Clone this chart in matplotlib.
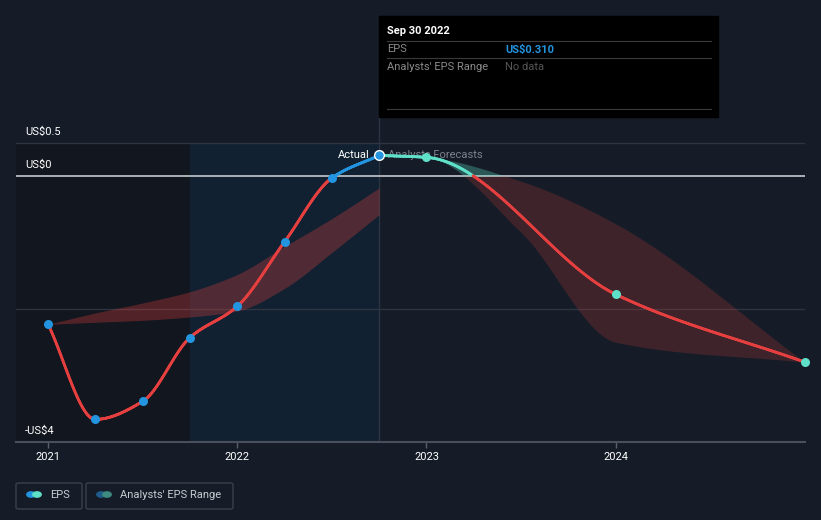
import numpy as np
import matplotlib
matplotlib.use('Agg')
import matplotlib.pyplot as plt
from matplotlib.collections import LineCollection
from matplotlib.patches import Rectangle, FancyBboxPatch, Circle

plt.rcParams['font.family'] = ['Roboto', 'DejaVu Sans']

# Dados (ano decimal, EPS em US$)
actual_x = [2021.0, 2021.25, 2021.5, 2021.75, 2022.0, 2022.25, 2022.5, 2022.75]
actual_eps = [-2.23, -3.66, -3.39, -2.43, -1.96, -0.99, -0.03, 0.31]

forecast_x = [2022.75, 2023.0, 2024.0, 2025.0]
forecast_eps = [0.31, 0.28, -1.78, -2.80]

# Faixa dos analistas (passado)
past_range_x = [2021.0, 2021.25, 2021.5, 2021.75, 2022.0, 2022.25, 2022.5, 2022.75]
past_range_hi = [-2.23, -2.06, -1.91, -1.74, -1.48, -1.06, -0.64, -0.18]
past_range_lo = [-2.23, -2.20, -2.17, -2.12, -2.03, -1.69, -1.15, -0.58]

# Faixa dos analistas (previsao)
fc_range_x = [2022.75, 2023.0, 2023.5, 2024.0, 2025.0]
fc_range_hi = [0.31, 0.28, -0.08, -0.72, -2.80]
fc_range_lo = [0.31, 0.28, -0.85, -2.50, -2.80]

ytick_vals = [0.5, 0.0, -4.0]
ytick_labels = ['US$0.5', 'US$0', '-US$4']
xtick_vals = [2021, 2022, 2023, 2024]

BG = '#151c27'
RED = '#e5403f'
BLUE = '#2394df'
TEAL = '#5fe0c8'
W, H = 821, 520


def pchip(x, y, n=400):
    x = np.asarray(x, float)
    y = np.asarray(y, float)
    h = np.diff(x)
    d = np.diff(y) / h
    m = np.zeros_like(y)
    for k in range(1, len(x) - 1):
        if d[k - 1] * d[k] > 0:
            w1 = 2 * h[k] + h[k - 1]
            w2 = h[k] + 2 * h[k - 1]
            m[k] = (w1 + w2) / (w1 / d[k - 1] + w2 / d[k])
    m[0] = d[0]
    m[-1] = d[-1]
    xs = np.linspace(x[0], x[-1], n)
    idx = np.clip(np.searchsorted(x, xs) - 1, 0, len(x) - 2)
    t = (xs - x[idx]) / h[idx]
    h00 = 2 * t**3 - 3 * t**2 + 1
    h10 = t**3 - 2 * t**2 + t
    h01 = -2 * t**3 + 3 * t**2
    h11 = t**3 - t**2
    ys = h00 * y[idx] + h10 * h[idx] * m[idx] + h01 * y[idx + 1] + h11 * h[idx] * m[idx + 1]
    return xs, ys


def fx(px):
    return px / W


def fy(py):
    return 1 - py / H


fig = plt.figure(figsize=(W / 100, H / 100), dpi=100, facecolor=BG)
ax = fig.add_axes([fx(16), fy(442), (805 - 16) / W, (442 - 120) / H])
ax.set_facecolor(BG)
x0 = 2021 - 32 / 189.3
ax.set_xlim(x0, 2025.0)
ax.set_ylim(-4, 0.842)
for s in ax.spines.values():
    s.set_visible(False)

# Regioes sombreadas
ax.fill_between([x0, 2021.75], -4, 0.5, color='#12161e', lw=0, zorder=0)
ax.fill_between([2021.75, 2022.75], -4, 0.5, color='#112131', lw=0, zorder=0)
ax.plot([2022.75, 2022.75], [-4, 0.9], color='#2a3442', lw=1, zorder=1, clip_on=False)

# Grade
ax.axhline(0.5, color='#2e3440', lw=1, zorder=1)
ax.axhline(-2.0, color='#2e3440', lw=1, zorder=1)
ax.axhline(0.0, color='#b8bcc2', lw=1.3, zorder=2)
ax.axhline(-4.0, color='#4a505b', lw=1.5, zorder=2, clip_on=False)

# Faixas
bx, bh = pchip(past_range_x, past_range_hi)
_, bl = pchip(past_range_x, past_range_lo)
ax.fill_between(bx, bl, bh, color=RED, alpha=0.3, lw=0, zorder=2)

fxs, fh = pchip(fc_range_x, fc_range_hi)
_, fl = pchip(fc_range_x, fc_range_lo)
ax.fill_between(fxs, np.minimum(fl, 0), np.minimum(fh, 0), color=RED, alpha=0.2, lw=0, zorder=2)
ax.fill_between(fxs, np.maximum(fl, 0), np.maximum(fh, 0), color=TEAL, alpha=0.3, lw=0, zorder=2)


def colored_line(xs, ys, pos_color):
    pts = np.column_stack([xs, ys])
    segs = np.stack([pts[:-1], pts[1:]], axis=1)
    mid = (ys[:-1] + ys[1:]) / 2
    cols = [pos_color if v >= 0 else RED for v in mid]
    lc = LineCollection(segs, colors=cols, linewidths=2.0, zorder=4, capstyle='round')
    ax.add_collection(lc)


ax_, ay_ = pchip(actual_x, actual_eps, 800)
colored_line(ax_, ay_, BLUE)
fx_, fy_ = pchip(forecast_x, forecast_eps, 600)
colored_line(fx_, fy_, TEAL)

ax.plot(actual_x[:-1], actual_eps[:-1], 'o', color=BLUE, ms=6.5, mec='none', zorder=5)
ax.plot(actual_x[-1:], actual_eps[-1:], 'o', color=BLUE, ms=7, mec='white', mew=1, zorder=6)
ax.plot(forecast_x[1:], forecast_eps[1:], 'o', color=TEAL, ms=6.5, mec='none', zorder=5, clip_on=False)

# Rotulos Actual / Analysts Forecasts
ax.annotate('Actual', (2022.75, 0.31), xytext=(-7, 0), textcoords='offset points',
            ha='right', va='center', color='white', fontsize=8, zorder=7)
ax.annotate('Analysts Forecasts', (2022.75, 0.31), xytext=(6, 0), textcoords='offset points',
            ha='left', va='center', color='#7d828b', fontsize=8, zorder=3)

# Eixo y (rotulos dentro do grafico)
for v, lab in zip(ytick_vals, ytick_labels):
    ax.annotate(lab, (x0, v), xytext=(6.5, 4.5), textcoords='offset points',
                ha='left', va='bottom', color='white', fontsize=8)
ax.set_yticks([])

# Eixo x
ax.set_xticks(xtick_vals)
ax.set_xticklabels([str(v) for v in xtick_vals])
ax.tick_params(axis='x', colors='#5a606b', length=4, width=1, labelcolor='white',
               labelsize=8, pad=3)

# Tooltip
fig.patches.append(Rectangle((fx(379), fy(117)), (718 - 379) / W, (117 - 16) / H,
                             transform=fig.transFigure, color='black', zorder=10))
for yy in [41, 58, 109]:
    fig.add_artist(plt.Line2D([fx(387), fx(711)], [fy(yy), fy(yy)], color='#3a3a3a',
                              lw=0.8, zorder=11))
fig.text(fx(387), fy(31), 'Sep 30 2022', color='white', fontsize=8, fontweight='bold',
         va='center', zorder=12)
fig.text(fx(387), fy(49.5), 'EPS', color='#8a8a8a', fontsize=8, va='center', zorder=12)
fig.text(fx(505), fy(49.5), 'US$0.310', color=BLUE, fontsize=8, fontweight='bold',
         va='center', zorder=12)
fig.text(fx(387), fy(66.5), "Analysts' EPS Range", color='#8a8a8a', fontsize=8,
         va='center', zorder=12)
fig.text(fx(505), fy(66.5), 'No data', color='#555555', fontsize=8, va='center', zorder=12)

# Legenda
for (l, r) in [(16, 82), (86, 233)]:
    fig.patches.append(FancyBboxPatch((fx(l), fy(509)), (r - l) / W, 26 / H,
                                      boxstyle='round,pad=0,rounding_size=0.003',
                                      transform=fig.transFigure, fc='none',
                                      ec='#3b414c', lw=1))
leg_items = [(31, BLUE, TEAL, 50, 'EPS'), (101, '#1f5c8a', '#3d8a80', 120, "Analysts' EPS Range")]
for cx, c1, c2, tx, lab in leg_items:
    for dx, c in [(0, c1), (6, c2)]:
        fig.patches.append(Circle((fx(cx + dx), fy(494.5)), 4.2 / W, transform=fig.transFigure,
                                  color=c))
    fig.text(fx(tx), fy(494.5), lab, color='#c8ccd2', fontsize=8, va='center')

fig.savefig('out.png', dpi=100, facecolor=BG)
